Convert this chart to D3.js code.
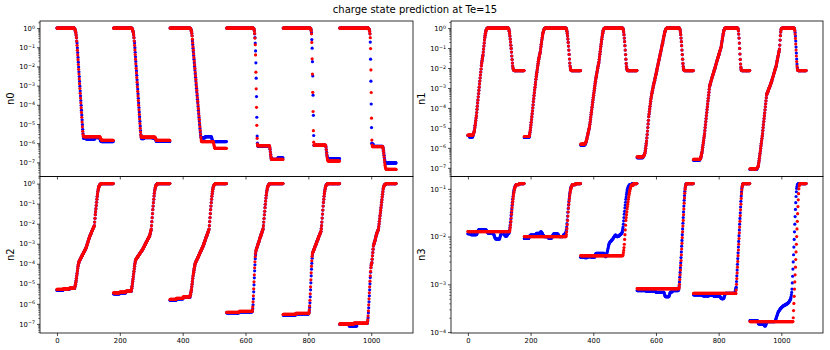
<!DOCTYPE html>
<html>
<head>
<meta charset="utf-8">
<title>charge state prediction at Te=15</title>
<script src="https://cdn.jsdelivr.net/npm/d3@7"></script>
<style>
body { margin: 0; background: #fff; }
svg { display: block; font-family: "DejaVu Sans", sans-serif; }
</style>
</head>
<body>
<script>
// log10 of each fraction. One array per test case (180 samples).
// a plain number is one sample, [n, v] is n samples in a row reading v.
var caseLength = 180;

var n0True = [
  [[56,0],-0.02,-0.05,-0.1,-0.16,-0.25,-0.36,-0.5,-0.68,-0.78,-1.03,-1.28,-1.53,-1.78,-2.03,-2.28,-2.53,-2.78,-3.03,-3.28,-3.53,-3.78,-4.03,-4.28,-4.53,-4.78,-5.03,-5.28,-5.5,-5.65,[8,-5.75],[28,-5.78],[15,-5.71],-5.74,-5.78,-5.83,-5.87,-5.9,-5.91,[38,-5.92]],
  [[59,0],-0.02,-0.05,-0.1,-0.16,-0.25,-0.36,-0.5,-0.68,-0.78,-1.02,-1.26,-1.5,-1.74,-1.98,-2.22,-2.46,-2.7,-2.94,-3.18,-3.42,-3.66,-3.9,-4.14,-4.38,-4.62,-4.86,-5.1,-5.34,-5.55,-5.68,[8,-5.76],[28,-5.71],[8,-5.73],-5.77,-5.82,-5.86,-5.89,[43,-5.91]],
  [[65,0],-0.02,-0.05,-0.1,-0.17,-0.27,-0.4,-0.67,-0.86,-1.05,-1.24,-1.43,-1.62,-1.81,-2.0,-2.19,-2.38,-2.57,-2.76,-2.95,-3.14,-3.33,-3.52,-3.71,-3.9,-4.09,-4.28,-4.47,-4.66,-4.85,-5.04,-5.23,-5.42,-5.58,-5.68,-5.72,[12,-5.72],[20,-5.66],-5.7,-5.76,-5.82,-5.87,-5.9,[43,-5.92]],
  [[86,0],-0.02,-0.06,-0.14,-0.3,-0.5,-0.78,-1.19,-1.81,-2.61,-3.57,-4.65,-5.63,-6.0,[38,-6.15],-6.22,-6.32,-6.45,-6.58,-6.7,-6.79,[20,-6.84],[17,-6.76]],
  [[87,0],-0.02,-0.06,-0.14,-0.25,-0.6,-1.05,-1.75,-2.5,-3.5,-4.55,-5.6,[38,-6.12],-6.2,-6.33,-6.47,-6.6,-6.7,-6.76,-6.79,[37,-6.8]],
  [[92,0],-0.02,-0.05,-0.1,-0.15,-0.3,-0.73,-1.62,-2.77,-3.96,-5.19,-6.0,[4,-6.05],[30,-6.17],-6.2,-6.27,-6.37,-6.5,-6.63,-6.76,-6.87,-6.95,-7.0,-7.02,[33,-7.03]]
];
var n0Pred = [
  [[56,0],-0.02,-0.05,-0.1,-0.16,-0.25,-0.36,-0.5,-0.68,-0.9,-1.15,-1.4,-1.65,-1.9,-2.15,-2.4,-2.65,-2.9,-3.15,-3.4,-3.65,-3.9,-4.15,-4.4,-4.65,-4.9,-5.15,-5.38,-5.55,-5.63,[52,-5.66],-5.68,-5.71,-5.75,-5.79,-5.82,-5.84,[37,-5.85]],
  [[59,0],-0.02,-0.05,-0.1,-0.16,-0.25,-0.36,-0.5,-0.68,-0.9,-1.14,-1.38,-1.62,-1.86,-2.1,-2.34,-2.58,-2.82,-3.06,-3.3,-3.54,-3.78,-4.02,-4.26,-4.5,-4.74,-4.98,-5.22,-5.42,-5.58,-5.66,[44,-5.69],-5.72,-5.76,-5.8,-5.83,-5.85,[42,-5.86]],
  [[65,0],-0.02,-0.05,-0.1,-0.17,-0.27,-0.4,-0.58,-0.77,-0.96,-1.15,-1.34,-1.53,-1.72,-1.91,-2.1,-2.29,-2.48,-2.67,-2.86,-3.05,-3.24,-3.43,-3.62,-3.81,-4.0,-4.19,-4.38,-4.57,-4.76,-4.95,-5.14,-5.33,-5.52,-5.7,-5.84,[38,-5.92],-5.97,-6.04,-6.12,-6.19,-6.24,-6.26,[36,-6.27]],
  [[86,0],-0.02,-0.06,-0.14,-0.28,-0.52,-0.87,-1.4,-2.3,-3.17,-4.13,-5.07,-5.75,-6.05,[38,-6.13],-6.2,-6.3,-6.45,-6.6,-6.72,-6.8,[37,-6.85]],
  [[87,0],-0.02,-0.06,-0.14,-0.3,-0.75,-1.6,-2.4,-3.35,-4.35,-5.35,-5.95,[38,-6.1],-6.2,-6.35,-6.5,-6.65,-6.78,-6.87,-6.91,[37,-6.93]],
  [[92,0],-0.02,-0.05,-0.1,-0.18,-0.3,-0.5,-1.07,-2.18,-3.36,-4.7,-5.84,-6.1,[33,-6.18],-6.22,-6.3,-6.42,-6.56,-6.72,-6.88,-7.03,-7.15,-7.24,-7.3,-7.34,-7.36,[31,-7.37]]
];

var n1True = [
  [[5,-5.38],[11,-5.45],-5.4,-5.35,-5.29,-5.23,-5.16,-5.11,-4.99,-4.87,-4.75,-4.63,-4.51,-4.39,-4.23,-4.07,-3.91,-3.75,-3.6,-3.44,-3.28,-3.12,-2.96,-2.8,-2.65,-2.5,-2.35,-2.2,-2.05,-1.88,-1.74,-1.62,-1.52,-1.43,-1.36,-1.2,-1.05,-0.9,-0.75,-0.6,-0.47,-0.36,-0.26,-0.18,-0.12,-0.07,-0.04,-0.02,[68,0],-0.03,-0.08,-0.16,-0.27,-0.4,-0.55,-0.7,-0.86,-1.02,-1.2,-1.4,-1.58,-1.75,-1.9,-2.0,-2.07,-2.1,-2.12,[32,-2.13]],
  [[16,-5.48],-5.42,-5.33,-5.23,-5.11,-4.98,-4.85,-4.72,-4.58,-4.44,-4.29,-4.14,-3.99,-3.84,-3.68,-3.53,-3.38,-3.24,-3.1,-2.97,-2.83,-2.7,-2.56,-2.43,-2.32,-2.21,-2.1,-1.99,-1.88,-1.77,-1.66,-1.56,-1.48,-1.4,-1.32,-1.25,-1.18,-1.05,-0.93,-0.81,-0.7,-0.59,-0.48,-0.38,-0.29,-0.21,-0.15,-0.1,-0.06,-0.04,-0.02,[68,0],-0.03,-0.08,-0.16,-0.27,-0.4,-0.55,-0.72,-0.9,-1.1,-1.32,-1.55,-1.75,-1.9,-2.0,-2.07,-2.11,[30,-2.13]],
  [[13,-5.86],-5.85,-5.83,-5.8,-5.76,-5.71,-5.65,-5.58,-5.51,-5.44,-5.37,-5.3,-5.23,-5.16,-5.09,-5.02,-4.94,-4.82,-4.7,-4.58,-4.46,-4.33,-4.21,-4.09,-3.96,-3.84,-3.72,-3.6,-3.48,-3.36,-3.24,-3.13,-3.01,-2.89,-2.77,-2.66,-2.55,-2.46,-2.37,-2.28,-2.19,-2.1,-2.01,-1.93,-1.85,-1.77,-1.7,-1.57,-1.44,-1.31,-1.18,-1.05,-0.92,-0.8,-0.68,-0.56,-0.45,-0.35,-0.26,-0.18,-0.11,-0.06,-0.03,-0.01,[59,0],-0.04,-0.1,-0.2,-0.33,-0.5,-0.68,-0.88,-1.1,-1.33,-1.56,-1.77,-1.93,-2.03,-2.09,-2.12,[30,-2.13]],
  [[19,-6.49],-6.44,-6.42,-6.4,-6.37,-6.33,-6.3,-6.25,-6.14,-6.02,-5.9,-5.78,-5.66,-5.5,-5.33,-5.16,-4.98,-4.8,-4.62,-4.44,-4.31,-4.18,-4.05,-3.92,-3.79,-3.66,-3.54,-3.44,-3.35,-3.27,-3.19,-3.11,-3.03,-2.95,-2.87,-2.8,-2.74,-2.68,-2.61,-2.53,-2.46,-2.38,-2.31,-2.24,-2.16,-2.09,-2.01,-1.94,-1.87,-1.79,-1.72,-1.64,-1.57,-1.5,-1.42,-1.35,-1.27,-1.2,-1.13,-1.05,-0.98,-0.9,-0.83,-0.76,-0.68,-0.6,-0.52,-0.44,-0.36,-0.29,-0.22,-0.16,-0.11,-0.07,-0.04,-0.02,[42,0],-0.04,-0.1,-0.2,-0.33,-0.5,-0.68,-0.88,-1.1,-1.33,-1.56,-1.77,-1.93,-2.03,-2.09,-2.12,[29,-2.13]],
  [[20,-6.62],-6.57,-6.55,-6.52,-6.48,-6.42,-6.35,-6.27,-6.2,-6.09,-5.97,-5.86,-5.74,-5.63,-5.51,-5.4,-5.28,-5.13,-4.98,-4.83,-4.68,-4.53,-4.38,-4.23,-4.08,-3.94,-3.8,-3.65,-3.51,-3.36,-3.22,-3.07,-2.93,-2.86,-2.8,-2.75,-2.7,-2.64,-2.59,-2.54,-2.48,-2.43,-2.38,-2.33,-2.27,-2.22,-2.17,-2.11,-2.06,-2.01,-1.95,-1.9,-1.85,-1.79,-1.74,-1.69,-1.63,-1.58,-1.52,-1.47,-1.42,-1.36,-1.31,-1.26,-1.2,-1.15,-1.1,-1.05,-1.0,-0.93,-0.83,-0.73,-0.63,-0.53,-0.44,-0.35,-0.26,-0.18,-0.11,-0.06,-0.03,[42,0],-0.05,-0.14,-0.3,-0.5,-0.75,-1.02,-1.3,-1.57,-1.8,-1.97,-2.07,-2.11,[26,-2.13]],
  [[21,-7.08],-7.07,-7.05,-7.03,-7.0,-6.96,-6.92,-6.85,-6.75,-6.64,-6.52,-6.4,-6.28,-6.16,-6.03,-5.9,-5.78,-5.66,-5.53,-5.41,-5.28,-5.13,-4.98,-4.83,-4.68,-4.53,-4.39,-4.24,-4.09,-3.94,-3.79,-3.64,-3.49,-3.35,-3.3,-3.26,-3.22,-3.18,-3.13,-3.09,-3.05,-3.01,-2.97,-2.93,-2.89,-2.84,-2.8,-2.76,-2.71,-2.66,-2.6,-2.55,-2.5,-2.45,-2.4,-2.34,-2.29,-2.24,-2.19,-2.14,-2.08,-2.03,-1.98,-1.93,-1.85,-1.77,-1.69,-1.61,-1.53,-1.45,-1.37,-1.29,-1.21,-1.13,-1.05,-0.85,-0.6,-0.38,-0.2,-0.09,-0.04,-0.02,-0.01,[39,0],-0.04,-0.1,-0.22,-0.4,-0.65,-0.95,-1.25,-1.55,-1.8,-1.98,-2.08,-2.12,[26,-2.13]]
];
var n1Pred = [
  [[16,-5.36],-5.35,-5.33,-5.29,-5.24,-5.18,-5.11,-4.99,-4.87,-4.75,-4.63,-4.51,-4.39,-4.23,-4.07,-3.91,-3.75,-3.6,-3.44,-3.28,-3.12,-2.96,-2.8,-2.65,-2.5,-2.35,-2.2,-2.05,-1.9,-1.78,-1.66,-1.55,-1.44,-1.34,-1.2,-1.05,-0.9,-0.75,-0.6,-0.47,-0.36,-0.26,-0.18,-0.12,-0.07,-0.04,-0.02,[68,0],-0.03,-0.08,-0.16,-0.27,-0.4,-0.55,-0.7,-0.86,-1.02,-1.2,-1.4,-1.58,-1.75,-1.9,-2.0,-2.07,-2.1,-2.12,[32,-2.13]],
  [[16,-5.43],-5.38,-5.3,-5.21,-5.11,-4.98,-4.85,-4.72,-4.58,-4.44,-4.29,-4.14,-3.99,-3.84,-3.68,-3.53,-3.38,-3.24,-3.1,-2.97,-2.83,-2.7,-2.56,-2.43,-2.32,-2.21,-2.1,-1.99,-1.88,-1.77,-1.66,-1.56,-1.48,-1.4,-1.32,-1.25,-1.18,-1.05,-0.93,-0.81,-0.7,-0.59,-0.48,-0.38,-0.29,-0.21,-0.15,-0.1,-0.06,-0.04,-0.02,[68,0],-0.03,-0.08,-0.16,-0.27,-0.4,-0.55,-0.72,-0.9,-1.1,-1.32,-1.55,-1.75,-1.9,-2.0,-2.07,-2.11,[30,-2.13]],
  [[13,-5.81],-5.8,-5.78,-5.75,-5.72,-5.68,-5.63,-5.57,-5.5,-5.43,-5.36,-5.29,-5.22,-5.15,-5.08,-5.01,-4.94,-4.82,-4.7,-4.58,-4.46,-4.33,-4.21,-4.09,-3.96,-3.84,-3.72,-3.6,-3.48,-3.36,-3.24,-3.13,-3.01,-2.89,-2.77,-2.66,-2.55,-2.46,-2.37,-2.28,-2.19,-2.1,-2.01,-1.93,-1.85,-1.77,-1.7,-1.57,-1.44,-1.31,-1.18,-1.05,-0.92,-0.8,-0.68,-0.56,-0.45,-0.35,-0.26,-0.18,-0.11,-0.06,-0.03,-0.01,[59,0],-0.04,-0.1,-0.2,-0.33,-0.5,-0.68,-0.88,-1.1,-1.33,-1.56,-1.77,-1.93,-2.03,-2.09,-2.12,[30,-2.13]],
  [[19,-6.45],-6.44,-6.42,-6.4,-6.37,-6.33,-6.3,-6.25,-6.14,-6.02,-5.9,-5.78,-5.66,-5.5,-5.33,-5.16,-4.98,-4.8,-4.62,-4.44,-4.31,-4.18,-4.05,-3.92,-3.79,-3.66,-3.54,-3.44,-3.35,-3.27,-3.19,-3.11,-3.03,-2.95,-2.87,-2.8,-2.74,-2.68,-2.61,-2.53,-2.46,-2.38,-2.31,-2.24,-2.16,-2.09,-2.01,-1.94,-1.87,-1.79,-1.72,-1.64,-1.57,-1.5,-1.42,-1.35,-1.27,-1.2,-1.13,-1.05,-0.98,-0.9,-0.83,-0.76,-0.68,-0.6,-0.52,-0.44,-0.36,-0.29,-0.22,-0.16,-0.11,-0.07,-0.04,-0.02,[42,0],-0.04,-0.1,-0.2,-0.33,-0.5,-0.68,-0.88,-1.1,-1.33,-1.56,-1.77,-1.93,-2.03,-2.09,-2.12,[29,-2.13]],
  [[20,-6.58],-6.57,-6.55,-6.52,-6.48,-6.42,-6.35,-6.27,-6.2,-6.09,-5.97,-5.86,-5.74,-5.63,-5.51,-5.4,-5.28,-5.13,-4.98,-4.83,-4.68,-4.53,-4.38,-4.23,-4.08,-3.94,-3.8,-3.65,-3.51,-3.36,-3.22,-3.07,-2.93,-2.86,-2.8,-2.75,-2.7,-2.64,-2.59,-2.54,-2.48,-2.43,-2.38,-2.33,-2.27,-2.22,-2.17,-2.11,-2.06,-2.01,-1.95,-1.9,-1.85,-1.79,-1.74,-1.69,-1.63,-1.58,-1.52,-1.47,-1.42,-1.36,-1.31,-1.26,-1.2,-1.15,-1.1,-1.05,-1.0,-0.93,-0.83,-0.73,-0.63,-0.53,-0.44,-0.35,-0.26,-0.18,-0.11,-0.06,-0.03,[42,0],-0.05,-0.14,-0.3,-0.5,-0.75,-1.02,-1.3,-1.57,-1.8,-1.97,-2.07,-2.11,[26,-2.13]],
  [[21,-7.05],-7.04,-7.02,-7.0,-6.98,-6.95,-6.92,-6.85,-6.75,-6.64,-6.52,-6.4,-6.28,-6.16,-6.03,-5.9,-5.78,-5.66,-5.53,-5.41,-5.28,-5.13,-4.98,-4.83,-4.68,-4.53,-4.39,-4.24,-4.09,-3.94,-3.79,-3.64,-3.49,-3.35,-3.3,-3.26,-3.22,-3.18,-3.13,-3.09,-3.05,-3.01,-2.97,-2.93,-2.89,-2.84,-2.8,-2.76,-2.71,-2.66,-2.6,-2.55,-2.5,-2.45,-2.4,-2.34,-2.29,-2.24,-2.19,-2.14,-2.08,-2.03,-1.98,-1.93,-1.85,-1.77,-1.69,-1.61,-1.53,-1.45,-1.37,-1.29,-1.21,-1.13,-1.05,-0.85,-0.6,-0.38,-0.2,-0.09,-0.04,-0.02,-0.01,[39,0],-0.05,-0.14,-0.3,-0.52,-0.8,-1.1,-1.4,-1.68,-1.9,-2.04,-2.1,-2.12,[26,-2.13]]
];

var n2True = [
  [[20,-5.32],[20,-5.28],[17,-5.23],-5.16,-5.1,-5.02,-4.93,-4.84,-4.72,-4.6,-4.48,-4.36,-4.24,-4.13,-4.04,-3.97,-3.91,-3.87,-3.84,-3.81,-3.78,-3.75,-3.72,-3.68,-3.65,-3.62,-3.59,-3.56,-3.53,-3.5,-3.47,-3.44,-3.41,-3.38,-3.35,-3.32,-3.28,-3.25,-3.22,-3.19,-3.14,-3.09,-3.04,-2.99,-2.94,-2.89,-2.84,-2.79,-2.74,-2.69,-2.65,-2.61,-2.57,-2.54,-2.5,-2.46,-2.42,-2.38,-2.34,-2.31,-2.27,-2.24,-2.2,-2.17,-2.13,-2.1,-1.92,-1.73,-1.55,-1.4,-1.25,-1.09,-0.93,-0.78,-0.64,-0.52,-0.41,-0.32,-0.24,-0.18,-0.13,-0.09,-0.06,-0.04,-0.03,-0.02,-0.01,[39,0]],
  [[20,-5.5],[20,-5.45],[17,-5.38],-5.3,-5.22,-5.12,-5.0,-4.88,-4.76,-4.64,-4.51,-4.38,-4.25,-4.12,-4.0,-3.91,-3.84,-3.79,-3.76,-3.74,-3.72,-3.69,-3.67,-3.65,-3.62,-3.6,-3.58,-3.55,-3.53,-3.51,-3.48,-3.46,-3.44,-3.41,-3.39,-3.37,-3.34,-3.32,-3.3,-3.27,-3.24,-3.21,-3.18,-3.15,-3.12,-3.08,-3.05,-3.02,-2.99,-2.96,-2.93,-2.9,-2.87,-2.84,-2.81,-2.78,-2.75,-2.72,-2.69,-2.66,-2.63,-2.6,-2.53,-2.47,-2.4,-2.34,-2.27,-2.1,-1.9,-1.7,-1.5,-1.3,-1.12,-0.95,-0.78,-0.62,-0.48,-0.36,-0.27,-0.2,-0.14,-0.09,-0.06,-0.04,-0.03,-0.02,-0.01,[39,0]],
  [[20,-5.82],[22,-5.75],[22,-5.67],-5.58,-5.52,-5.44,-5.36,-5.28,-5.15,-5.02,-4.88,-4.74,-4.61,-4.51,-4.42,-4.32,-4.22,-4.13,-4.05,-3.99,-3.94,-3.9,-3.87,-3.85,-3.81,-3.78,-3.74,-3.71,-3.67,-3.64,-3.6,-3.57,-3.53,-3.5,-3.46,-3.43,-3.39,-3.36,-3.32,-3.29,-3.25,-3.22,-3.18,-3.15,-3.11,-3.07,-3.02,-2.98,-2.93,-2.89,-2.85,-2.8,-2.76,-2.71,-2.67,-2.63,-2.58,-2.54,-2.49,-2.45,-2.41,-2.36,-2.32,-2.27,-2.1,-1.9,-1.7,-1.5,-1.3,-1.12,-0.95,-0.78,-0.63,-0.5,-0.38,-0.28,-0.2,-0.14,-0.1,-0.07,-0.05,-0.03,-0.02,-0.01,[35,0]],
  [[40,-6.45],[42,-6.4],-6.35,-6.25,-6.05,-5.75,-5.4,-5.05,-4.7,-4.35,-4.05,-3.75,-3.55,-3.4,-3.3,-3.25,-3.2,-3.16,-3.11,-3.06,-3.01,-2.96,-2.92,-2.87,-2.82,-2.77,-2.72,-2.68,-2.63,-2.58,-2.53,-2.48,-2.44,-2.39,-2.34,-2.3,-2.25,-2.1,-1.92,-1.74,-1.56,-1.38,-1.2,-1.03,-0.87,-0.72,-0.58,-0.46,-0.36,-0.27,-0.2,-0.14,-0.1,-0.07,-0.05,-0.03,-0.02,-0.01,[42,0]],
  [[40,-6.56],[42,-6.5],-6.45,-6.35,-6.18,-5.95,-5.65,-5.3,-4.95,-4.6,-4.27,-3.98,-3.72,-3.55,-3.44,-3.4,-3.36,-3.32,-3.28,-3.24,-3.2,-3.15,-3.11,-3.07,-3.03,-2.99,-2.95,-2.91,-2.87,-2.83,-2.78,-2.74,-2.7,-2.66,-2.62,-2.58,-2.54,-2.5,-2.46,-2.42,-2.38,-2.25,-2.1,-1.92,-1.72,-1.52,-1.32,-1.12,-0.94,-0.78,-0.63,-0.5,-0.39,-0.29,-0.21,-0.15,-0.1,-0.07,-0.05,-0.03,-0.02,-0.01,[38,0]],
  [[30,-7.03],[25,-7.1],[33,-6.98],-6.95,-6.85,-6.7,-6.45,-6.2,-5.9,-5.6,-5.3,-5.0,-4.69,-4.42,-4.19,-4.05,-3.98,-3.94,-3.77,-3.6,-3.44,-3.27,-3.11,-3.05,-3.0,-2.94,-2.88,-2.83,-2.77,-2.71,-2.65,-2.59,-2.53,-2.47,-2.43,-2.39,-2.35,-2.31,-2.27,-2.15,-2.02,-1.88,-1.74,-1.6,-1.47,-1.34,-1.2,-1.07,-0.93,-0.8,-0.66,-0.53,-0.4,-0.27,-0.2,-0.14,-0.1,-0.07,-0.05,-0.04,-0.03,-0.02,-0.01,[32,0]]
];
var n2Pred = [
  [[20,-5.28],[20,-5.25],[17,-5.21],-5.16,-5.1,-5.02,-4.93,-4.84,-4.72,-4.6,-4.48,-4.36,-4.24,-4.13,-4.04,-3.97,-3.91,-3.87,-3.84,-3.81,-3.78,-3.75,-3.72,-3.68,-3.65,-3.62,-3.59,-3.56,-3.53,-3.5,-3.47,-3.44,-3.41,-3.38,-3.35,-3.32,-3.28,-3.25,-3.22,-3.19,-3.14,-3.09,-3.04,-2.99,-2.94,-2.89,-2.84,-2.79,-2.74,-2.69,-2.65,-2.61,-2.57,-2.54,-2.5,-2.46,-2.42,-2.38,-2.34,-2.31,-2.27,-2.24,-2.2,-2.17,-2.13,-2.1,-1.92,-1.73,-1.55,-1.4,-1.25,-1.09,-0.93,-0.78,-0.64,-0.52,-0.41,-0.32,-0.24,-0.18,-0.13,-0.09,-0.06,-0.04,-0.03,-0.02,-0.01,[39,0]],
  [[20,-5.45],[20,-5.41],[17,-5.36],-5.3,-5.22,-5.12,-5.0,-4.88,-4.76,-4.64,-4.51,-4.38,-4.25,-4.12,-4.0,-3.91,-3.84,-3.79,-3.76,-3.74,-3.72,-3.69,-3.67,-3.65,-3.62,-3.6,-3.58,-3.55,-3.53,-3.51,-3.48,-3.46,-3.44,-3.41,-3.39,-3.37,-3.34,-3.32,-3.3,-3.27,-3.24,-3.21,-3.18,-3.15,-3.12,-3.08,-3.05,-3.02,-2.99,-2.96,-2.93,-2.9,-2.87,-2.84,-2.81,-2.78,-2.75,-2.72,-2.69,-2.66,-2.63,-2.6,-2.53,-2.47,-2.4,-2.34,-2.27,-2.1,-1.9,-1.7,-1.5,-1.3,-1.12,-0.95,-0.78,-0.62,-0.48,-0.36,-0.27,-0.2,-0.14,-0.09,-0.06,-0.04,-0.03,-0.02,-0.01,[39,0]],
  [[20,-5.78],[22,-5.72],[22,-5.65],-5.58,-5.52,-5.44,-5.36,-5.28,-5.15,-5.02,-4.88,-4.74,-4.61,-4.51,-4.42,-4.32,-4.22,-4.13,-4.05,-3.99,-3.94,-3.9,-3.87,-3.85,-3.81,-3.78,-3.74,-3.71,-3.67,-3.64,-3.6,-3.57,-3.53,-3.5,-3.46,-3.43,-3.39,-3.36,-3.32,-3.29,-3.25,-3.22,-3.18,-3.15,-3.11,-3.07,-3.02,-2.98,-2.93,-2.89,-2.85,-2.8,-2.76,-2.71,-2.67,-2.63,-2.58,-2.54,-2.49,-2.45,-2.41,-2.36,-2.32,-2.27,-2.1,-1.9,-1.7,-1.5,-1.3,-1.12,-0.95,-0.78,-0.63,-0.5,-0.38,-0.28,-0.2,-0.14,-0.1,-0.07,-0.05,-0.03,-0.02,-0.01,[35,0]],
  [[40,-6.42],[42,-6.38],-6.3,-6.15,-5.9,-5.6,-5.25,-4.9,-4.55,-4.2,-3.9,-3.65,-3.48,-3.36,-3.3,-3.25,-3.2,-3.16,-3.11,-3.06,-3.01,-2.96,-2.92,-2.87,-2.82,-2.77,-2.72,-2.68,-2.63,-2.58,-2.53,-2.48,-2.44,-2.39,-2.34,-2.3,-2.25,-2.1,-1.92,-1.74,-1.56,-1.38,-1.2,-1.03,-0.87,-0.72,-0.58,-0.46,-0.36,-0.27,-0.2,-0.14,-0.1,-0.07,-0.05,-0.03,-0.02,-0.01,[42,0]],
  [[40,-6.53],[42,-6.48],-6.42,-6.3,-6.1,-5.82,-5.5,-5.15,-4.8,-4.45,-4.12,-3.85,-3.63,-3.5,-3.44,-3.4,-3.36,-3.32,-3.28,-3.24,-3.2,-3.15,-3.11,-3.07,-3.03,-2.99,-2.95,-2.91,-2.87,-2.83,-2.78,-2.74,-2.7,-2.66,-2.62,-2.58,-2.54,-2.5,-2.46,-2.42,-2.38,-2.25,-2.1,-1.92,-1.72,-1.52,-1.32,-1.12,-0.94,-0.78,-0.63,-0.5,-0.39,-0.29,-0.21,-0.15,-0.1,-0.07,-0.05,-0.03,-0.02,-0.01,[38,0]],
  [[45,-7.0],[43,-6.96],-6.9,-6.8,-6.6,-6.35,-6.05,-5.75,-5.45,-5.15,-4.87,-4.6,-4.38,-4.2,-4.08,-3.99,-3.94,-3.77,-3.6,-3.44,-3.27,-3.11,-3.05,-3.0,-2.94,-2.88,-2.83,-2.77,-2.71,-2.65,-2.59,-2.53,-2.47,-2.43,-2.39,-2.35,-2.31,-2.27,-2.15,-2.02,-1.88,-1.74,-1.6,-1.47,-1.34,-1.2,-1.07,-0.93,-0.8,-0.66,-0.53,-0.4,-0.27,-0.2,-0.14,-0.1,-0.07,-0.05,-0.04,-0.03,-0.02,-0.01,[32,0]]
];

var n3True = [
  [[10,-1.94],[18,-1.96],-1.95,-1.93,-1.91,-1.89,-1.88,-1.87,-1.86,-1.86,[23,-1.86],-1.87,-1.88,-1.89,-1.9,-1.91,-1.92,-1.93,-1.93,-1.93,-1.93,[12,-1.93],-1.94,-1.95,-1.96,-1.98,-2.0,-2.02,-2.03,-2.04,-2.05,[12,-2.05],-2.03,-2.0,-1.98,-1.96,-1.95,-1.94,-1.93,-1.92,-1.92,-1.92,-1.92,-1.93,-1.94,-1.95,-1.96,-1.96,-1.97,-1.98,-1.99,-1.99,-1.99,-1.99,-1.98,-1.97,-1.96,-1.95,-1.94,-1.93,-1.93,-1.92,-1.9,-1.86,-1.81,-1.76,-1.7,-1.63,-1.56,-1.49,-1.42,-1.35,-1.28,-1.22,-1.16,-1.11,-1.07,-1.03,-1.0,-0.98,-0.96,-0.94,-0.93,-0.92,[10,-0.91],[16,-0.89]],
  [[15,-2.04],-2.02,-2.0,-1.99,-1.98,-1.97,-1.97,[15,-1.97],-1.96,-1.95,-1.94,-1.93,[10,-1.93],-1.92,-1.91,-1.9,-1.9,-1.9,-1.91,-1.92,-1.93,-1.95,-1.96,-1.97,-1.98,-1.99,-2.0,[11,-2.0],-2.01,-2.02,-2.03,[10,-2.03],-2.02,-2.0,-1.99,-1.97,-1.96,-1.95,-1.94,[12,-1.94],-1.95,-1.96,-1.97,-1.98,-1.99,-2.0,[10,-2.0],-1.99,-1.98,-1.97,-1.96,-1.96,-1.95,-1.95,-1.94,-1.93,-1.92,-1.9,-1.86,-1.8,-1.73,-1.65,-1.57,-1.49,-1.41,-1.34,-1.27,-1.21,-1.15,-1.1,-1.06,-1.02,-0.99,-0.97,-0.95,-0.94,-0.93,-0.92,[10,-0.91],[16,-0.89]],
  [[12,-2.43],[10,-2.44],[12,-2.42],[11,-2.43],-2.41,-2.39,-2.37,-2.36,-2.35,[26,-2.35],-2.37,-2.39,-2.41,-2.42,-2.42,-2.41,-2.39,-2.37,-2.34,-2.31,-2.28,-2.25,-2.22,-2.19,-2.16,-2.14,-2.13,-2.12,-2.11,-2.1,-2.1,-2.09,-2.08,-2.07,-2.07,-2.06,-2.05,-2.04,-2.03,-2.02,-2.01,-2.0,-1.99,-1.98,-1.97,-1.97,-1.97,-1.98,-1.99,-2.0,-2.0,-2.0,-2.0,-1.99,-1.99,-1.99,-1.98,-1.98,-1.97,-1.96,-1.96,-1.95,-1.95,-1.94,-1.93,-1.92,-1.91,-1.88,-1.84,-1.8,-1.74,-1.67,-1.6,-1.53,-1.47,-1.4,-1.34,-1.28,-1.22,-1.17,-1.12,-1.08,-1.04,-1.01,-0.99,-0.97,-0.95,-0.94,-0.93,-0.92,[8,-0.91],[16,-0.89]],
  [[30,-3.13],[30,-3.15],-3.16,[25,-3.17],-3.18,-3.2,-3.22,-3.24,-3.25,-3.26,[10,-3.26],-3.24,-3.22,-3.2,-3.18,-3.17,[5,-3.16],-3.15,-3.14,[18,-3.13],-3.12,-3.1,-3.03,-2.95,-2.85,-2.75,-2.65,-2.55,-2.44,-2.32,-2.2,-2.08,-1.96,-1.84,-1.72,-1.6,-1.48,-1.36,-1.24,-1.14,-1.05,-0.98,-0.94,-0.92,-0.9,[23,-0.89]],
  [[30,-3.22],[20,-3.24],[15,-3.23],[20,-3.25],-3.26,-3.27,-3.28,-3.29,-3.29,[6,-3.3],-3.29,-3.28,-3.26,-3.24,-3.22,-3.2,[30,-3.19],-3.17,-3.14,-3.11,-3.08,-3.06,-2.94,-2.82,-2.7,-2.58,-2.46,-2.34,-2.22,-2.1,-1.98,-1.86,-1.74,-1.62,-1.5,-1.38,-1.26,-1.15,-1.06,-0.99,-0.95,-0.92,-0.9,[22,-0.89]],
  [[25,-3.76],-3.78,-3.8,-3.82,-3.83,-3.83,[14,-3.83],-3.84,-3.85,-3.86,-3.87,-3.87,-3.87,-3.86,-3.84,-3.82,-3.8,[26,-3.78],-3.77,-3.76,-3.74,-3.72,-3.7,-3.68,-3.66,-3.64,-3.62,-3.6,-3.58,-3.57,-3.56,-3.55,-3.54,-3.53,-3.52,-3.51,-3.5,-3.5,-3.49,-3.48,-3.48,-3.47,-3.46,-3.46,-3.45,-3.45,-3.45,-3.44,-3.44,-3.43,-3.43,-3.43,-3.42,-3.42,-3.42,-3.41,-3.41,-3.4,-3.4,-3.39,-3.39,-3.38,-3.37,-3.36,-3.35,-3.34,-3.33,-3.31,-3.29,-3.26,-3.22,-3.17,-3.1,-2.97,-2.83,-2.68,-2.53,-2.38,-2.22,-2.06,-1.9,-1.74,-1.58,-1.43,-1.29,-1.16,-1.06,-0.99,-0.95,-0.92,-0.91,-0.9,[26,-0.89]]
];
var n3Pred = [
  [[134,-1.895],-1.86,-1.81,-1.75,-1.68,-1.61,-1.53,-1.46,-1.39,-1.32,-1.26,-1.2,-1.15,-1.1,-1.06,-1.02,-0.99,-0.97,-0.95,-0.94,-0.93,[10,-0.91],[16,-0.89]],
  [[134,-2.0],-1.96,-1.9,-1.83,-1.75,-1.66,-1.57,-1.48,-1.4,-1.32,-1.25,-1.19,-1.13,-1.08,-1.04,-1.01,-0.98,-0.96,-0.94,-0.93,-0.92,[10,-0.91],[16,-0.89]],
  [[135,-2.4],-2.38,-2.34,-2.29,-2.23,-2.16,-2.06,-1.96,-1.86,-1.76,-1.66,-1.6,-1.54,-1.48,-1.42,-1.37,-1.32,-1.27,-1.22,-1.17,-1.13,-1.09,-1.05,-1.02,-0.99,-0.97,-0.95,[8,-0.92],[11,-0.89]],
  [[134,-3.09],-3.06,-3.0,-2.9,-2.8,-2.7,-2.6,-2.5,-2.38,-2.26,-2.14,-2.02,-1.9,-1.78,-1.66,-1.54,-1.42,-1.3,-1.19,-1.09,-1.01,-0.96,-0.93,-0.91,[23,-0.89]],
  [[136,-3.19],-3.12,-3.0,-2.88,-2.76,-2.64,-2.52,-2.4,-2.28,-2.16,-2.04,-1.92,-1.8,-1.68,-1.56,-1.44,-1.32,-1.2,-1.1,-1.02,-0.96,-0.93,-0.91,[22,-0.89]],
  [[138,-3.78],-3.7,-3.55,-3.4,-3.25,-3.1,-2.95,-2.8,-2.64,-2.48,-2.32,-2.16,-2.0,-1.84,-1.68,-1.52,-1.37,-1.23,-1.1,-1.0,-0.94,-0.91,[21,-0.89]]
];

var panelNames = ["n0", "n1", "n2", "n3"];
var xTicks = [0, 200, 400, 600, 800, 1000];
var title = "charge state prediction at Te=15";

var W = 830, H = 350;
var colX = [[40, 413], [451, 823]];
var rowY = [[21, 176.5], [176.5, 333]];
var panels = [
  {label: panelNames[0], truth: n0True, pred: n0Pred, col: 0, row: 0},
  {label: panelNames[1], truth: n1True, pred: n1Pred, col: 1, row: 0},
  {label: panelNames[2], truth: n2True, pred: n2Pred, col: 0, row: 1},
  {label: panelNames[3], truth: n3True, pred: n3Pred, col: 1, row: 1}
];

function expand(cases) {
  var pts = [];
  cases.forEach(function(seg, k) {
    var i = 0;
    seg.forEach(function(e) {
      var n = Array.isArray(e) ? e[0] : 1;
      var v = Array.isArray(e) ? e[1] : e;
      for (var j = 0; j < n; j++) {
        pts.push({x: k * caseLength + i, v: Math.pow(10, v)});
        i++;
      }
    });
  });
  return pts;
}

function sup(e) {
  return e < 0 ? "\u2212" + (-e) : String(e);
}

var svg = d3.select("body").append("svg")
  .attr("width", W).attr("height", H);
svg.append("rect").attr("width", W).attr("height", H).attr("fill", "#fff");

svg.append("text")
  .attr("x", W / 2).attr("y", 13)
  .attr("text-anchor", "middle")
  .attr("font-size", "10px")
  .attr("fill", "#000")
  .text(title);

panels.forEach(function(p, idx) {
  var xr = colX[p.col], yr = rowY[p.row];
  var truth = expand(p.truth), pred = expand(p.pred);
  var all = truth.concat(pred);

  // matplotlib style 5% margins
  var xe = d3.extent(all, function(d) { return d.x; });
  var xp = (xe[1] - xe[0]) * 0.05;
  var x = d3.scaleLinear().domain([xe[0] - xp, xe[1] + xp]).range(xr);

  var le = d3.extent(all, function(d) { return Math.log10(d.v); });
  var lp = (le[1] - le[0]) * 0.05;
  var lo = le[0] - lp, hi = le[1] + lp;
  var y = d3.scaleLog().domain([Math.pow(10, lo), Math.pow(10, hi)]).range([yr[1], yr[0]]);

  var g = svg.append("g");

  g.append("clipPath").attr("id", "clip" + idx)
    .append("rect")
    .attr("x", xr[0]).attr("y", yr[0])
    .attr("width", xr[1] - xr[0]).attr("height", yr[1] - yr[0]);

  var dots = g.append("g").attr("clip-path", "url(#clip" + idx + ")");
  dots.selectAll("circle.t").data(truth).join("circle")
    .attr("class", "t")
    .attr("cx", function(d) { return x(d.x); })
    .attr("cy", function(d) { return y(d.v); })
    .attr("r", 1.6)
    .attr("fill", "#0000ff");
  dots.selectAll("circle.p").data(pred).join("circle")
    .attr("class", "p")
    .attr("cx", function(d) { return x(d.x); })
    .attr("cy", function(d) { return y(d.v); })
    .attr("r", 1.6)
    .attr("fill", "#ff0000");

  // y ticks: decades plus minor 2..9
  var majors = [], minors = [];
  for (var k = Math.floor(lo); k <= Math.ceil(hi); k++) {
    if (k >= lo && k <= hi) majors.push(Math.pow(10, k));
    for (var m = 2; m <= 9; m++) {
      var lv = k + Math.log10(m);
      if (lv >= lo && lv <= hi) minors.push(m * Math.pow(10, k));
    }
  }

  var yMinor = g.append("g")
    .attr("transform", "translate(" + xr[0] + ",0)")
    .call(d3.axisLeft(y).tickValues(minors).tickSize(1.8).tickFormat(""));
  yMinor.select(".domain").remove();
  yMinor.selectAll("line").attr("stroke", "#222").attr("stroke-width", 0.6);

  var yMajor = g.append("g")
    .attr("transform", "translate(" + xr[0] + ",0)")
    .call(d3.axisLeft(y).tickValues(majors).tickSize(3).tickPadding(2).tickFormat(""));
  yMajor.select(".domain").remove();
  yMajor.selectAll("line").attr("stroke", "#222").attr("stroke-width", 0.8);
  yMajor.selectAll(".tick text").each(function(d) {
    var e = Math.round(Math.log10(d));
    var t = d3.select(this)
      .attr("font-size", "6.8px")
      .attr("font-family", "DejaVu Sans")
      .attr("fill", "#000")
      .text("10");
    t.append("tspan").attr("dy", "-0.45em").attr("font-size", "4.8px").text(sup(e));
  });

  var xAxis = g.append("g")
    .attr("transform", "translate(0," + yr[1] + ")")
    .call(d3.axisBottom(x).tickValues(xTicks).tickSize(3).tickPadding(2).tickFormat(d3.format("d")));
  xAxis.select(".domain").remove();
  xAxis.selectAll("line").attr("stroke", "#222").attr("stroke-width", 0.8);
  xAxis.selectAll("text")
    .attr("font-size", "6.8px")
    .attr("font-family", "DejaVu Sans")
    .attr("fill", "#000");
  if (p.row === 0) xAxis.selectAll("text").remove();

  g.append("rect")
    .attr("x", xr[0]).attr("y", yr[0])
    .attr("width", xr[1] - xr[0]).attr("height", yr[1] - yr[0])
    .attr("fill", "none")
    .attr("stroke", "#000")
    .attr("stroke-width", 0.8);

  g.append("text")
    .attr("transform", "translate(" + (xr[0] - 26.5) + "," + ((yr[0] + yr[1]) / 2) + ") rotate(-90)")
    .attr("text-anchor", "middle")
    .attr("font-size", "10px")
    .attr("fill", "#000")
    .text(p.label);
});
</script>
</body>
</html>
